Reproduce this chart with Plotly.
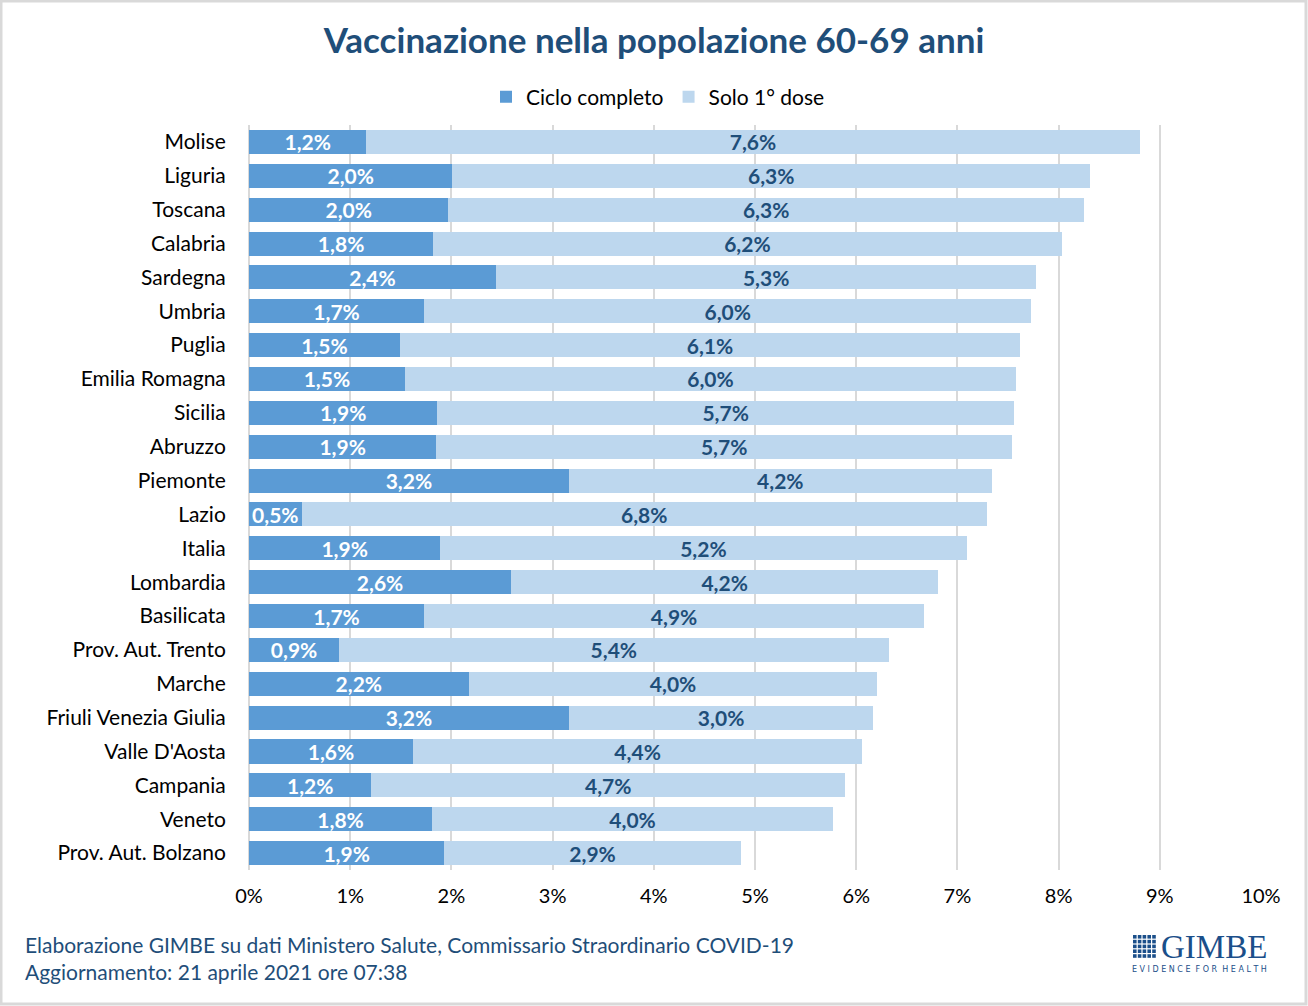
import plotly.graph_objects as go

regions = ["Molise", "Liguria", "Toscana", "Calabria", "Sardegna", "Umbria", "Puglia",
           "Emilia Romagna", "Sicilia", "Abruzzo", "Piemonte", "Lazio", "Italia",
           "Lombardia", "Basilicata", "Prov. Aut. Trento", "Marche", "Friuli Venezia Giulia",
           "Valle D'Aosta", "Campania", "Veneto", "Prov. Aut. Bolzano"]
ciclo_completo = [1.16, 2.01, 1.97, 1.82, 2.44, 1.73, 1.49, 1.54, 1.86, 1.85, 3.16, 0.52,
                  1.89, 2.59, 1.73, 0.89, 2.17, 3.16, 1.62, 1.21, 1.81, 1.93]
solo_prima_dose = [7.64, 6.30, 6.28, 6.21, 5.34, 6.00, 6.13, 6.04, 5.70, 5.69, 4.18, 6.77,
                   5.20, 4.22, 4.94, 5.43, 4.04, 3.01, 4.44, 4.68, 3.96, 2.93]
x_ticks = list(range(0, 11))
x_tick_labels = [f"{v}%" for v in x_ticks]

FONT = "Lato"
DARK = "#1F4E79"

fig = go.Figure()
fig.add_trace(go.Bar(
    y=regions, x=ciclo_completo, orientation="h", name="Ciclo completo",
    marker=dict(color="#5B9BD5", line=dict(width=0)),
    texttemplate="%{x:.1f}%", textposition="inside", insidetextanchor="middle",
    textangle=0, textfont=dict(color="white", size=21, family=FONT, weight="bold"),
    constraintext="none", hoverinfo="skip"))
fig.add_trace(go.Bar(
    y=regions, x=solo_prima_dose, orientation="h", name="Solo 1° dose",
    marker=dict(color="#BDD7EE", line=dict(width=0)),
    texttemplate="%{x:.1f}%", textposition="inside", insidetextanchor="middle",
    textangle=0, textfont=dict(color=DARK, size=21, family=FONT, weight="bold"),
    constraintext="none", hoverinfo="skip"))

L, R, T, B = 249, 47, 125, 136
W, H = 1308, 1006
pw, ph = W - L - R, H - T - B

def px(x):
    return (x - L) / pw

def py(y):
    return (H - B - y) / ph

fig.update_layout(
    width=W, height=H, barmode="stack", bargap=0.29,
    separators=",.",
    paper_bgcolor="white", plot_bgcolor="white",
    margin=dict(l=L, r=R, t=T, b=B, autoexpand=False),
    font=dict(family=FONT, size=21, color="#000000"),
    title=dict(text="<b>Vaccinazione nella popolazione 60-69 anni</b>",
               x=0.5, xref="container", xanchor="center",
               y=1 - 41 / H, yref="container", yanchor="middle",
               font=dict(size=35, color=DARK, family=FONT)),
    legend=dict(orientation="h", x=px(658), xanchor="center",
                y=py(97), yanchor="middle", font=dict(size=21, color="#000000"),
                traceorder="normal"),
    uniformtext=dict(minsize=21, mode="show"),
    xaxis=dict(range=[0, 10], tickvals=x_ticks, ticktext=x_tick_labels, showgrid=True,
               gridcolor="#D9D9D9", gridwidth=2, zeroline=True, zerolinecolor="#D9D9D9",
               zerolinewidth=2, showline=False, ticks="outside", ticklen=8,
               tickcolor="rgba(0,0,0,0)", tickfont=dict(size=20), fixedrange=True),
    yaxis=dict(autorange="reversed", ticks="outside", ticklen=18,
               tickcolor="rgba(0,0,0,0)", showline=False, tickfont=dict(size=21),
               fixedrange=True),
    showlegend=True,
)

# border
fig.add_shape(type="rect", xref="paper", yref="paper",
              x0=px(1), x1=px(W - 2), y0=py(H - 2), y1=py(1),
              line=dict(color="#D9D9D9", width=3), fillcolor="rgba(0,0,0,0)", layer="below")

# footer
fig.add_annotation(xref="paper", yref="paper", x=px(23), y=py(944), xanchor="left",
                   yanchor="middle", showarrow=False,
                   text="Elaborazione GIMBE su dati Ministero Salute, Commissario Straordinario COVID-19",
                   font=dict(size=21, color=DARK, family=FONT))
fig.add_annotation(xref="paper", yref="paper", x=px(23), y=py(971), xanchor="left",
                   yanchor="middle", showarrow=False,
                   text="Aggiornamento: 21 aprile 2021 ore 07:38",
                   font=dict(size=21, color=DARK, family=FONT))

# logo
LOGO = "#1B4F8A"
fig.add_annotation(xref="paper", yref="paper", x=px(1159), y=py(947), xanchor="left",
                   yanchor="middle", showarrow=False, text="GIMBE",
                   font=dict(size=33, color=LOGO, family="Liberation Serif"))
fig.add_annotation(xref="paper", yref="paper", x=px(1130), y=py(969), xanchor="left",
                   yanchor="middle", showarrow=False,
                   text="E V I D E N C E  F O R  H E A L T H",
                   font=dict(size=8, color=LOGO, family="DejaVu Sans"))
cell = 4.8
for i in range(5):
    for j in range(5):
        x0 = 1133 + j * cell
        y0 = 935 + i * cell
        fig.add_shape(type="rect", xref="paper", yref="paper",
                      x0=px(x0), x1=px(x0 + cell - 1.2), y0=py(y0 + cell - 1.2), y1=py(y0),
                      line=dict(width=0), fillcolor=LOGO)

fig.write_html("out.html")
